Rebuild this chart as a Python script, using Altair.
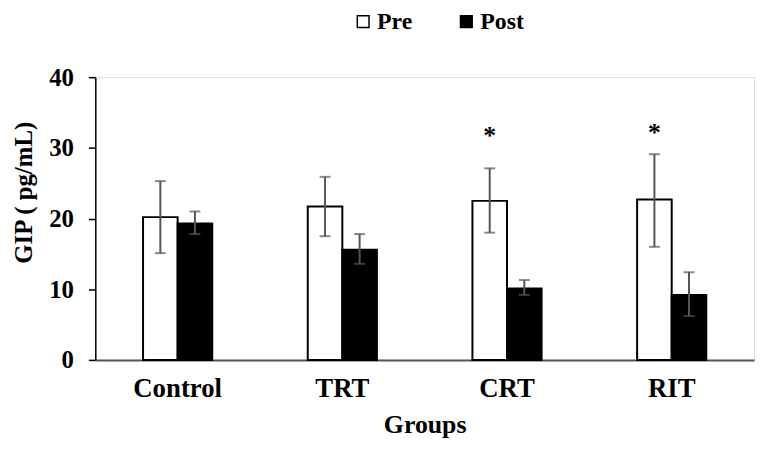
import altair as alt
import pandas as pd

groups = ["Control", "TRT", "CRT", "RIT"]
series = ["Pre", "Post"]
pre_mean = [20.2, 21.7, 22.5, 22.7]
pre_lo = [15.1, 17.5, 18.0, 16.0]
pre_hi = [25.3, 25.9, 27.1, 29.1]
post_mean = [19.3, 15.6, 10.1, 9.2]
post_lo = [17.8, 13.6, 9.2, 6.2]
post_hi = [21.0, 17.8, 11.3, 12.4]
star_groups = ["CRT", "RIT"]
star_y = [32.3, 32.7]

rows = []
for i, g in enumerate(groups):
    rows.append({"group": g, "series": "Pre", "mean": pre_mean[i], "lo": pre_lo[i], "hi": pre_hi[i]})
    rows.append({"group": g, "series": "Post", "mean": post_mean[i], "lo": post_lo[i], "hi": post_hi[i]})
df = pd.DataFrame(rows)
stars = pd.DataFrame({"group": star_groups, "series": ["Pre"] * len(star_groups), "y": star_y, "label": ["*"] * len(star_groups)})

FONT = "Liberation Serif"

x = alt.X("group:N", sort=groups,
          scale=alt.Scale(paddingInner=0.58, paddingOuter=0.29),
          axis=alt.Axis(title="Groups", labelAngle=0, ticks=False, labelFontSize=27,
                        labelFont=FONT, labelFontWeight="bold", labelColor="black",
                        labelPadding=16, domainColor="#555", domainWidth=2,
                        titleFont=FONT, titleFontSize=26, titleFontWeight="bold",
                        titleColor="black", titlePadding=10))
xo = alt.XOffset("series:N", sort=series, scale=alt.Scale(paddingInner=0, paddingOuter=0))

bars = alt.Chart(df).mark_bar(stroke="black", strokeWidth=2).encode(
    x=x, xOffset=xo,
    y=alt.Y("mean:Q", scale=alt.Scale(domain=[0, 40]),
            axis=alt.Axis(values=[0, 10, 20, 30, 40], title="GIP ( pg/mL)", grid=False,
                          tickSize=7, tickColor="black", tickWidth=1.5,
                          domainColor="black", domainWidth=1.5,
                          labelFont=FONT, labelFontSize=25, labelFontWeight="bold",
                          labelColor="black", labelPadding=15,
                          titleFont=FONT, titleFontSize=25, titleFontWeight="bold",
                          titleColor="black", titleAngle=-90, titleX=-72, titleY=116,
                          titleAlign="center", titleBaseline="middle")),
    fill=alt.Fill("series:N", sort=series,
                  scale=alt.Scale(domain=series, range=["white", "black"]),
                  legend=alt.Legend(title=None, orient="none", direction="horizontal",
                                    legendX=258, legendY=-68, symbolType="square",
                                    symbolSize=140, symbolStrokeColor="black",
                                    symbolStrokeWidth=1.5, labelFont=FONT,
                                    labelFontSize=24, labelFontWeight="bold",
                                    labelColor="black", columnPadding=42,
                                    labelOffset=2, padding=0)),
)

rules = alt.Chart(df).mark_rule(color="#555", strokeWidth=2).encode(
    x=x, xOffset=xo, y="lo:Q", y2="hi:Q")
ticks_lo = alt.Chart(df).mark_tick(color="#555", thickness=2, size=11).encode(
    x=x, xOffset=xo, y="lo:Q")
ticks_hi = alt.Chart(df).mark_tick(color="#555", thickness=2, size=11).encode(
    x=x, xOffset=xo, y="hi:Q")

star_text = alt.Chart(stars).mark_text(font=FONT, fontSize=26, fontWeight="bold",
                                       color="black", baseline="middle", dy=4).encode(
    x=alt.X("group:N", sort=groups), xOffset=alt.XOffset("series:N", sort=series),
    y="y:Q", text="label:N")

chart = alt.layer(bars, rules, ticks_lo, ticks_hi, star_text).properties(
    width=664, height=285,
    autosize=alt.AutoSizeParams(type="none"),
    padding={"left": 88, "top": 68, "right": 5, "bottom": 78},
).configure_view(stroke=None).configure(background="white")

chart.save("out.html", embed_options={"renderer": "svg", "actions": False})
